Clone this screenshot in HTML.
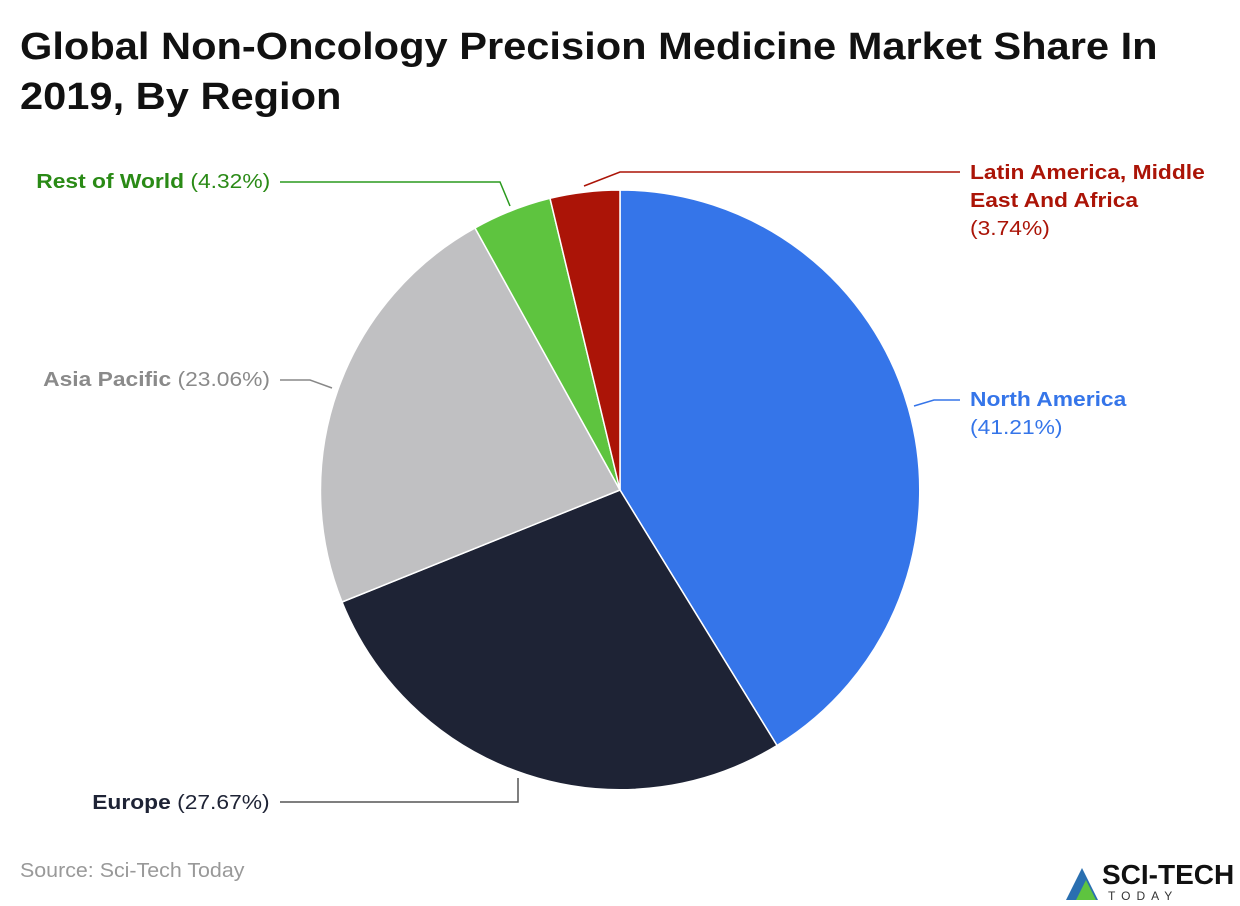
<!DOCTYPE html>
<html><head><meta charset="utf-8"><style>
body{margin:0;width:1240px;height:906px;background:#fff;font-family:"Liberation Sans",sans-serif;overflow:hidden;position:relative}
h1{position:absolute;left:20px;top:22px;margin:0;font-size:38px;line-height:50px;font-weight:bold;color:#111;transform:scaleX(1.095);transform-origin:left top;white-space:nowrap}
.l{position:absolute;font-size:20px;line-height:28px;transform:scaleX(1.14);transform-origin:left top;white-space:nowrap}
.r{transform-origin:right top}
</style></head><body>
<h1>Global Non-Oncology Precision Medicine Market Share In<br>2019, By Region</h1>
<svg width="1240" height="906" style="position:absolute;left:0;top:0">
<g stroke="#fff" stroke-width="1.5">
<path d="M620,490 L620,190 A300,300 0 0 1 777,745.5 Z" fill="#3575e9"/>
<path d="M620,490 L777,745.5 A300,300 0 0 1 342,602 Z" fill="#1e2335"/>
<path d="M620,490 L342,602 A300,300 0 0 1 475,228 Z" fill="#c0c0c2"/>
<path d="M620,490 L475,228 A300,300 0 0 1 550,198.3 Z" fill="#5ec43f"/>
<path d="M620,490 L550,198.3 A300,300 0 0 1 620,190 Z" fill="#ab1407"/>
</g>
<g fill="none" stroke-width="1.5">
<polyline points="914,406 934,400 960,400" stroke="#3575e9"/>
<polyline points="518,778 518,802 280,802" stroke="#555"/>
<polyline points="332,388 310,380 280,380" stroke="#888"/>
<polyline points="510,206 500,182 280,182" stroke="#2a9a1e"/>
<polyline points="584,186 620,172 960,172" stroke="#ab1407"/>
</g>
</svg>
<div class="l" style="left:970px;top:386px;color:#3575e9"><b>North America</b><br>(41.21%)</div>
<div class="l" style="left:970px;top:159px;color:#ab1407"><b>Latin America, Middle<br>East And Africa</b><br>(3.74%)</div>
<div class="l r" style="right:970px;top:168px;color:#2a8a16"><b>Rest of World</b> (4.32%)</div>
<div class="l r" style="right:970px;top:366px;color:#8a8a8a"><b>Asia Pacific</b> (23.06%)</div>
<div class="l r" style="right:970px;top:789px;color:#1e2335"><b>Europe</b> (27.67%)</div>
<div style="position:absolute;left:20px;top:860px;font-size:20px;color:#999;transform:scaleX(1.07);transform-origin:left top">Source: Sci-Tech Today</div>
<svg width="40" height="40" style="position:absolute;left:1064px;top:862px">
<polygon points="2,38 18,6 34,38" fill="#2a6fb0"/>
<polygon points="12,38 22,18 32,38" fill="#5ec43f"/>
</svg>
<div style="position:absolute;left:1102px;top:860px;font-size:28px;font-weight:bold;color:#111;line-height:30px">SCI-TECH</div>
<div style="position:absolute;left:1108px;top:889px;font-size:12px;letter-spacing:6px;color:#333">TODAY</div>
</body></html>
